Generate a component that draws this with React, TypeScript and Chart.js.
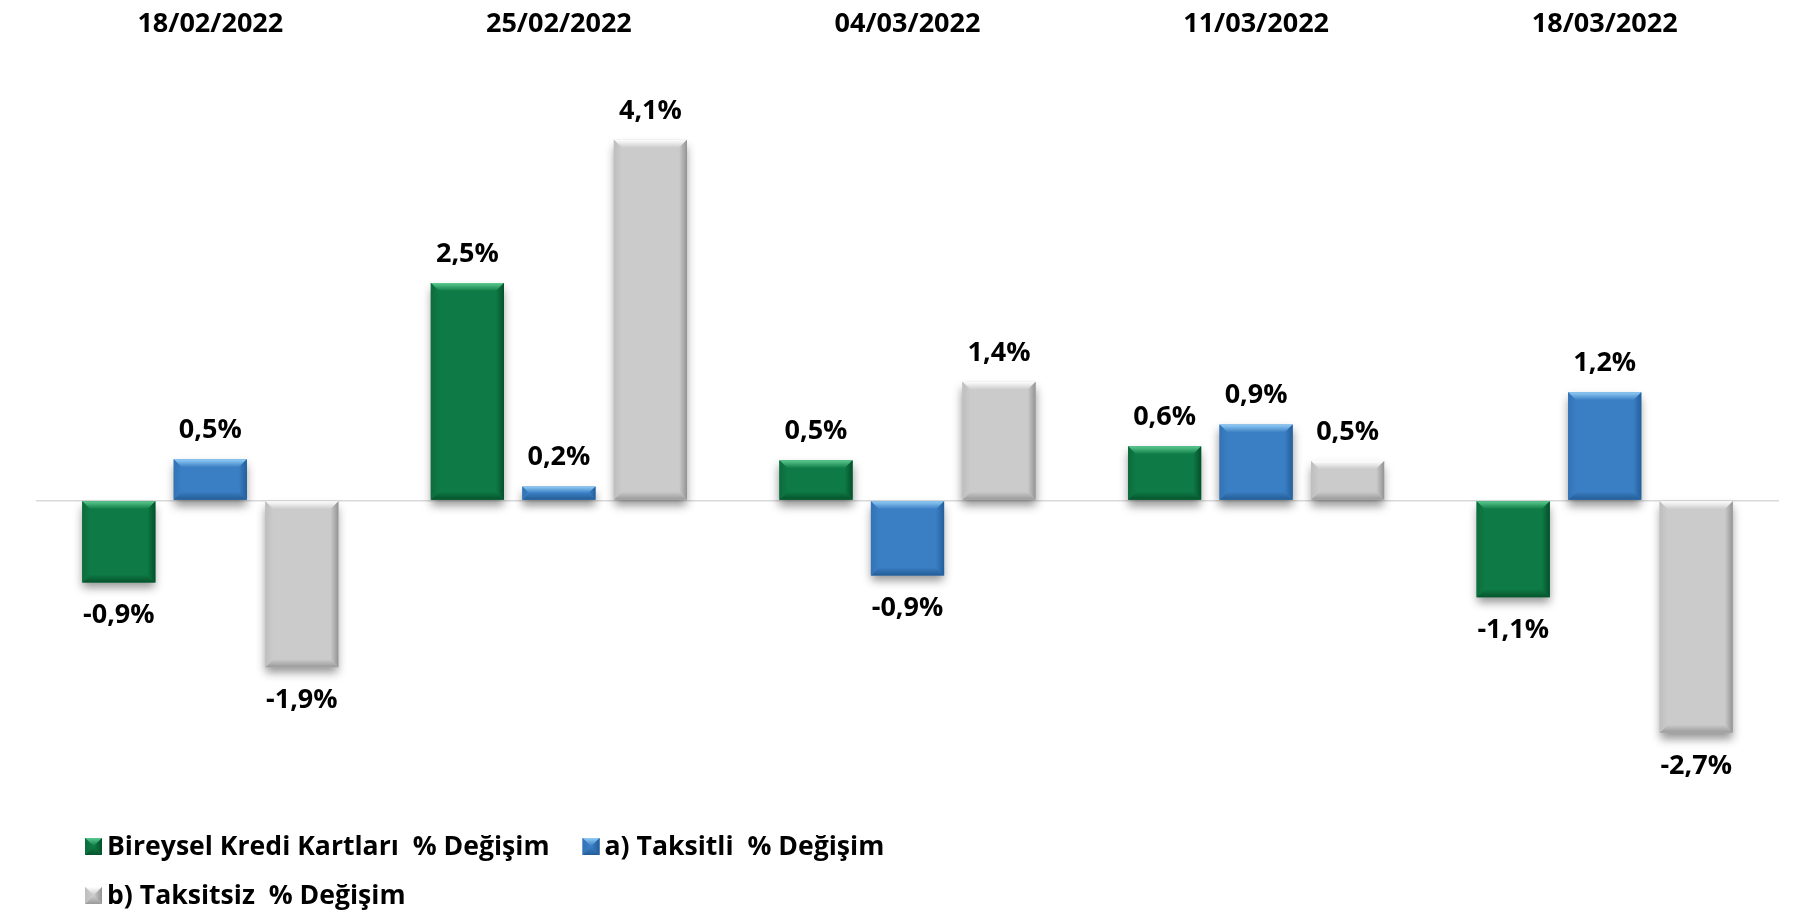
import React, { useEffect, useRef } from 'react';
import { Chart, registerables } from 'chart.js';

Chart.register(...registerables);

// ---- data ----
const categories = ['18/02/2022', '25/02/2022', '04/03/2022', '11/03/2022', '18/03/2022'];
const seriesLabels = ['Bireysel Kredi Kartları  % Değişim', 'a) Taksitli  % Değişim', 'b) Taksitsiz  % Değişim'];
const bireyselValues = [-0.94, 2.49, 0.46, 0.62, -1.11];
const taksitliValues = [0.47, 0.16, -0.86, 0.87, 1.24];
const taksitsizValues = [-1.91, 4.13, 1.36, 0.45, -2.66];

// ---- styles ----
const FONT = '"Open Sans", "Noto Sans", sans-serif';
const bodyColors = ['#0E7A45', '#3A7EC3', '#CBCBCB'];
const bevelColors = [
  { top: '#5CCB90', left: '#0C6C3C', right: '#05502A', bottom: '#06532B' },
  { top: '#92CDF7', left: '#3373B6', right: '#235E9A', bottom: '#245D96' },
  { top: '#FFFFFF', left: '#BEBEBE', right: '#939393', bottom: '#9A9A9A' },
];

function poly(ctx: CanvasRenderingContext2D, pts: number[][], fill: any) {
  ctx.beginPath();
  ctx.moveTo(pts[0][0], pts[0][1]);
  for (let i = 1; i < pts.length; i++) ctx.lineTo(pts[i][0], pts[i][1]);
  ctx.closePath();
  ctx.fillStyle = fill;
  ctx.fill();
}

function drawBevel(ctx: CanvasRenderingContext2D, l: number, t: number, r: number, b: number, c: any, body: string) {
  const s = Math.min(8, (b - t) / 2, (r - l) / 2);
  let g = ctx.createLinearGradient(0, t, 0, t + s);
  g.addColorStop(0, c.top); g.addColorStop(1, body);
  poly(ctx, [[l, t], [r, t], [r - s, t + s], [l + s, t + s]], g);
  g = ctx.createLinearGradient(0, b, 0, b - s);
  g.addColorStop(0, c.bottom); g.addColorStop(1, body);
  poly(ctx, [[l, b], [r, b], [r - s, b - s], [l + s, b - s]], g);
  g = ctx.createLinearGradient(l, 0, l + s, 0);
  g.addColorStop(0, c.left); g.addColorStop(1, body);
  poly(ctx, [[l, t], [l + s, t + s], [l + s, b - s], [l, b]], g);
  g = ctx.createLinearGradient(r, 0, r - s, 0);
  g.addColorStop(0, c.right); g.addColorStop(1, body);
  poly(ctx, [[r, t], [r - s, t + s], [r - s, b - s], [r, b]], g);
}

const shadowPlugin = {
  id: 'barShadow',
  beforeDatasetsDraw(chart: any) {
    const ctx = chart.ctx;
    ctx.save();
    ctx.shadowColor = 'rgba(0,0,0,0.42)';
    ctx.shadowBlur = 9;
    ctx.shadowOffsetX = 0;
    ctx.shadowOffsetY = 6;
  },
  afterDatasetsDraw(chart: any) {
    chart.ctx.restore();
  },
};

const bevelLabelPlugin = {
  id: 'bevelLabels',
  afterDatasetsDraw(chart: any) {
    const ctx = chart.ctx as CanvasRenderingContext2D;
    ctx.save();
    chart.data.datasets.forEach((ds: any, di: number) => {
      const meta = chart.getDatasetMeta(di);
      meta.data.forEach((el: any) => {
        const { x, y, base, width } = el.getProps(['x', 'y', 'base', 'width'], true);
        const l = x - width / 2, r = x + width / 2;
        const t = Math.min(y, base), b = Math.max(y, base);
        drawBevel(ctx, l, t, r, b, bevelColors[di], bodyColors[di]);
      });
    });
    ctx.font = `bold 27px ${FONT}`;
    ctx.fillStyle = '#000000';
    ctx.textAlign = 'center';
    ctx.textBaseline = 'alphabetic';
    chart.data.datasets.forEach((ds: any, di: number) => {
      const meta = chart.getDatasetMeta(di);
      meta.data.forEach((el: any, i: number) => {
        const v = ds.data[i] as number;
        const { x, y } = el.getProps(['x', 'y'], true);
        const text = v.toFixed(1).replace('.', ',') + '%';
        ctx.fillText(text, x, v >= 0 ? y - 21 : y + 41);
      });
    });
    ctx.restore();
  },
};

const legendPlugin = {
  id: 'customLegend',
  afterDraw(chart: any) {
    const ctx = chart.ctx as CanvasRenderingContext2D;
    ctx.save();
    ctx.font = `bold 26.6px ${FONT}`;
    ctx.fillStyle = '#000000';
    ctx.textAlign = 'left';
    ctx.textBaseline = 'alphabetic';
    const box = 17;
    const rows = [[0, 1], [2]];
    const rowBaselines = [847, 896];
    rows.forEach((items, ri) => {
      let x = 77;
      items.forEach((idx) => {
        const by = rowBaselines[ri] - 17;
        ctx.fillStyle = bodyColors[idx];
        ctx.fillRect(x, by, box, box);
        drawBevel(ctx, x, by, x + box, by + box, bevelColors[idx], bodyColors[idx]);
        ctx.fillStyle = '#000000';
        const label = chart.data.datasets[idx].label;
        ctx.fillText(label, x + box + 5, rowBaselines[ri]);
        x += box + 5 + ctx.measureText(label).width + 33;
      });
    });
    ctx.restore();
  },
};

export default function App() {
  const ref = useRef<HTMLCanvasElement | null>(null);
  useEffect(() => {
    if (!ref.current) return;
    const chart = new Chart(ref.current, {
      type: 'bar',
      data: {
        labels: categories,
        datasets: [
          { label: seriesLabels[0], data: bireyselValues, backgroundColor: bodyColors[0] },
          { label: seriesLabels[1], data: taksitliValues, backgroundColor: bodyColors[1] },
          { label: seriesLabels[2], data: taksitsizValues, backgroundColor: bodyColors[2] },
        ],
      },
      options: {
        responsive: false,
        animation: false,
        devicePixelRatio: 1,
        layout: { padding: { left: 28, right: 16, top: -66.5, bottom: 108 } },
        datasets: { bar: { categoryPercentage: 0.7875, barPercentage: 0.8, borderWidth: 0 } },
        plugins: {
          legend: { display: false },
          tooltip: { enabled: false },
        },
        scales: {
          x: {
            position: 'top',
            grid: { display: false, drawTicks: false },
            border: { display: false },
            ticks: {
              padding: 69.5,
              color: '#000000',
              font: { family: FONT, size: 27, weight: 'bold', lineHeight: 1.0 },
              maxRotation: 0,
            },
          },
          y: {
            min: -3.5,
            max: 4.5,
            ticks: { display: false, stepSize: 0.5 },
            border: { display: false },
            grid: {
              drawTicks: false,
              lineWidth: 1.5,
              color: (c: any) => (c.tick && c.tick.value === 0 ? '#D9D9D9' : 'rgba(0,0,0,0)'),
            },
          },
        },
      },
      plugins: [shadowPlugin, bevelLabelPlugin, legendPlugin],
    } as any);
    return () => chart.destroy();
  }, []);
  return <canvas ref={ref} width={1787} height={906} style={{ display: 'block' }} />;
}
